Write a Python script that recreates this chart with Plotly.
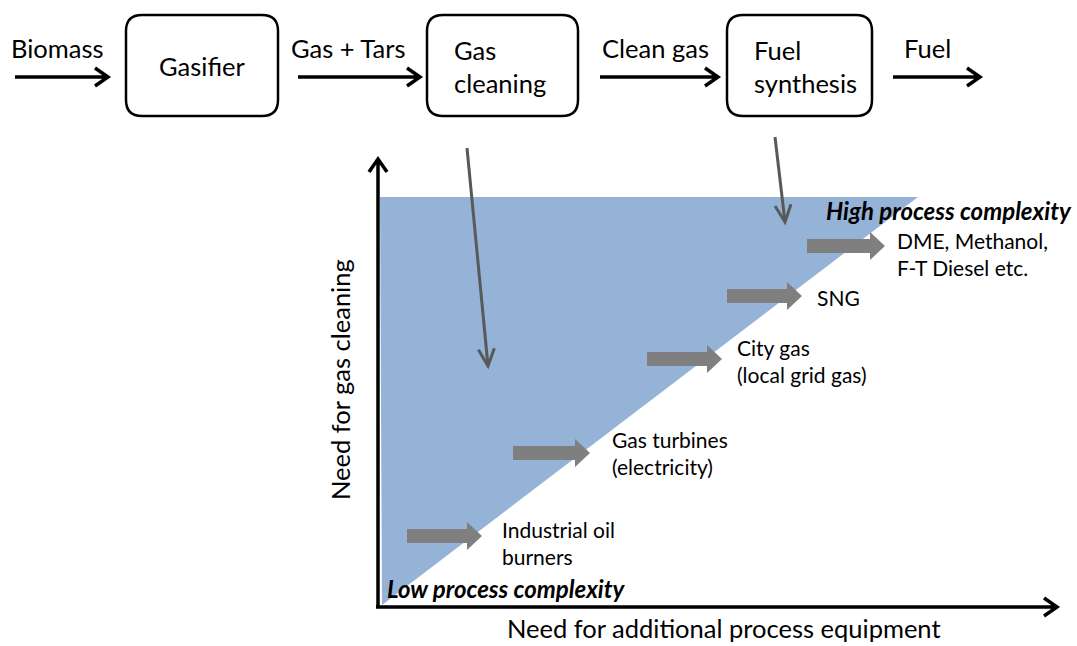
import plotly.graph_objects as go

W, H = 1077, 646
FONT = "Lato, 'Open Sans', Arial, sans-serif"
BLUE = "#95b3d7"
GREY = "#7f7f7f"
DARK = "#595959"

# top process chain
flow_labels = ["Biomass", "Gas + Tars", "Clean gas", "Fuel"]
flow_label_x = [57, 348, 655, 927]
flow_arrows = [(15, 108), (298, 420), (600, 718), (893, 980)]
box_labels = ["Gasifier", "Gas<br>cleaning", "Fuel<br>synthesis"]
box_x = [(126, 278), (427, 578), (727, 872)]

# applications along the diagonal
apps = ["Industrial oil<br>burners", "Gas turbines<br>(electricity)",
        "City gas<br>(local grid gas)", "SNG", "DME, Methanol,<br>F-T Diesel etc."]
app_arrow_x = [(407, 482), (513, 590), (647, 722), (727, 802), (807, 885)]
app_arrow_y = [536, 453, 359, 296, 246]
app_label_x = [500, 610, 735, 815, 895]
app_label_y = [543, 453, 361, 297, 254]

# grey pointers from the boxes into the triangle
pointers = [((467, 148), (488, 366)), ((775, 137), (785, 222))]


def rounded_box(x0, x1, y0, y1, r=16):
    return (f"M{x0+r},{y0} L{x1-r},{y0} Q{x1},{y0} {x1},{y0+r} "
            f"L{x1},{y1-r} Q{x1},{y1} {x1-r},{y1} L{x0+r},{y1} "
            f"Q{x0},{y1} {x0},{y1-r} L{x0},{y0+r} Q{x0},{y0} {x0+r},{y0} Z")


def block_arrow(x0, x1, y, sh=7, hh=14, hl=15):
    xb = x1 - hl
    return (f"M{x0},{y-sh} L{xb},{y-sh} L{xb},{y-hh} L{x1},{y} "
            f"L{xb},{y+hh} L{xb},{y+sh} L{x0},{y+sh} Z")


def line_arrow_h(x0, x1, y, h=9, l=13):
    return f"M{x0},{y} L{x1},{y} M{x1-l},{y-h} L{x1},{y} L{x1-l},{y+h}"


shapes = []
# blue triangle
shapes.append(dict(type="path", path="M380,197 L918,197 L382,605 Z",
                   fillcolor=BLUE, line_width=0, layer="below"))

for (a, b) in flow_arrows:
    shapes.append(dict(type="path", path=line_arrow_h(a, b, 77),
                       line=dict(color="black", width=3.5)))
for (a, b) in box_x:
    shapes.append(dict(type="path", path=rounded_box(a, b, 15, 116),
                       line=dict(color="black", width=2.5)))

# axes
shapes.append(dict(type="path", path="M378,607 L378,159 M369,172 L378,159 L387,172",
                   line=dict(color="black", width=3.5)))
shapes.append(dict(type="path", path="M376,607 L1057,607 M1044,598 L1057,607 L1044,616",
                   line=dict(color="black", width=3.5)))

for (a, b), y in zip(app_arrow_x, app_arrow_y):
    shapes.append(dict(type="path", path=block_arrow(a, b, y),
                       fillcolor=GREY, line_width=0))

for (p0, p1) in pointers:
    (x0, y0), (x1, y1) = p0, p1
    shapes.append(dict(type="line", x0=x0, y0=y0, x1=x1, y1=y1,
                       line=dict(color=DARK, width=3)))
    # arrow head along the line direction
    dx, dy = x1 - x0, y1 - y0
    n = (dx * dx + dy * dy) ** 0.5
    ux, uy = dx / n, dy / n
    px_, py_ = -uy, ux
    L, Wd = 17, 8
    bx, by = x1 - ux * L, y1 - uy * L
    shapes.append(dict(type="path",
                       path=f"M{bx+px_*Wd},{by+py_*Wd} L{x1},{y1} L{bx-px_*Wd},{by-py_*Wd}",
                       line=dict(color=DARK, width=3)))

ann = []
for t, x in zip(flow_labels, flow_label_x):
    ann.append(dict(x=x, y=48, text=t, font=dict(size=25.5)))
ann.append(dict(x=202, y=66, text=box_labels[0], font=dict(size=25.5)))
ann.append(dict(x=452, y=66, text=box_labels[1], xanchor="left", align="left",
                font=dict(size=25.5)))
ann.append(dict(x=752, y=66, text=box_labels[2], xanchor="left", align="left",
                font=dict(size=25.5)))

for t, x, y in zip(apps, app_label_x, app_label_y):
    ann.append(dict(x=x, y=y, text=t, xanchor="left", align="left",
                    font=dict(size=21)))

ann.append(dict(x=1074, y=210, text="<b><i>High process complexity</i></b>",
                xanchor="right", font=dict(size=24)))
ann.append(dict(x=385, y=588, text="<b><i>Low process complexity</i></b>",
                xanchor="left", font=dict(size=24)))
ann.append(dict(x=724, y=628, text="Need for additional process equipment",
                font=dict(size=25.5)))
ann.append(dict(x=340, y=380, text="Need for gas cleaning", textangle=-90,
                font=dict(size=25.5)))

for a in ann:
    a.update(xref="x", yref="y", showarrow=False)
    a.setdefault("xanchor", "center")
    a.setdefault("yanchor", "middle")
    a["font"].update(family=FONT, color="black")

fig = go.Figure()
fig.update_layout(
    width=W, height=H,
    shapes=shapes, annotations=ann,
    xaxis=dict(range=[0, W], visible=False, fixedrange=True),
    yaxis=dict(range=[H, 0], visible=False, fixedrange=True),
    margin=dict(l=0, r=0, t=0, b=0),
    paper_bgcolor="white", plot_bgcolor="white",
    showlegend=False,
)
fig.write_html("out.html", config={"displayModeBar": False},
               post_script="document.body.style.margin='0';"
                           "document.body.style.overflow='hidden';")
